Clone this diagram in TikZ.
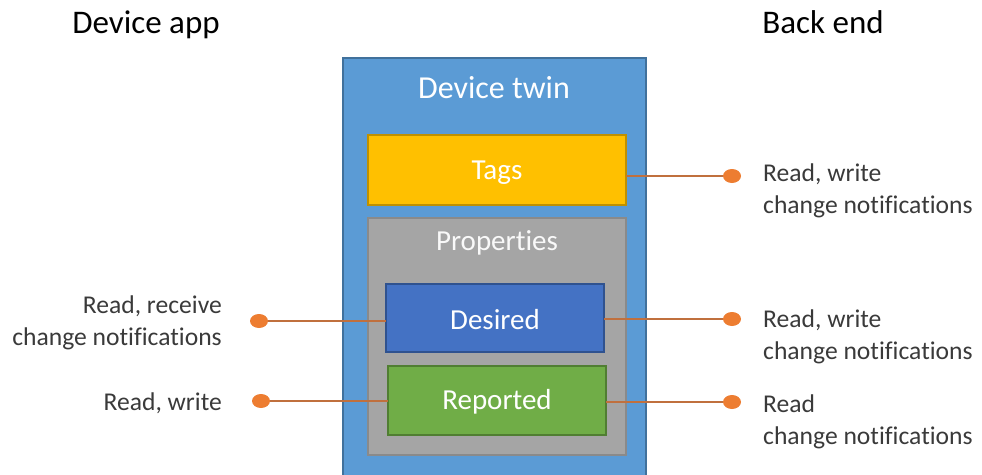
\documentclass[tikz,border=0pt]{standalone}
\usepackage{fontspec}
\setmainfont{Carlito}[Ligatures=NoCommon]
\usetikzlibrary{shapes.geometric}

\definecolor{twinblue}{HTML}{5B9BD5}
\definecolor{twinedge}{HTML}{41719C}
\definecolor{tagsfill}{HTML}{FFC000}
\definecolor{tagsedge}{HTML}{BF9000}
\definecolor{propfill}{HTML}{A5A5A5}
\definecolor{propedge}{HTML}{8A8A8A}
\definecolor{desfill}{HTML}{4472C4}
\definecolor{desedge}{HTML}{2F528F}
\definecolor{repfill}{HTML}{70AD47}
\definecolor{repedge}{HTML}{507E32}
\definecolor{dotfill}{HTML}{ED7D31}
\definecolor{linkcol}{HTML}{C0703E}
\definecolor{labelcol}{HTML}{3A3A3A}

\begin{document}
\begin{tikzpicture}[x=1pt,y=-1pt,
    heading/.style={font=\fontsize{33}{40}\selectfont,text=black,anchor=base},
    inner/.style={font=\fontsize{29}{34}\selectfont,text=white},
    label/.style={font=\fontsize{25.6}{32}\selectfont,text=labelcol,inner sep=0pt},
    box/.style={draw=#1edge,fill=#1fill,line width=1.2,inner sep=0pt},
    dot/.style={ellipse,fill=dotfill,minimum width=18,minimum height=14,inner sep=0pt},
    link/.style={draw=linkcol,line width=1.3}]
	\useasboundingbox (0,0) rectangle (982,474);

	% the twin and its parts
	\draw[draw=twinedge,fill=twinblue,line width=1.2] (343,58) rectangle (646,478);
	\node[inner,font=\fontsize{32}{38}\selectfont] (twin) at (494,88) {Device twin};
	\draw[box=tags] (368,135) rectangle (626,205);
	\node[inner] (tags) at (497,173) {Tags};
	\draw[box=prop] (368,218) rectangle (626,455);
	\node[inner,text=white!95!gray] (props) at (497,243) {Properties};
	\draw[box=des] (386,284) rectangle (604,352);
	\node[inner] (desired) at (495,320) {Desired};
	\draw[box=rep] (388,366) rectangle (606,435);
	\node[inner] (reported) at (497,402) {Reported};
	\coordinate (tagsR) at (626,176);
	\coordinate (desL) at (386,321);
	\coordinate (desR) at (604,319);
	\coordinate (repL) at (388,401);
	\coordinate (repR) at (606,402);

	% headings
	\node[heading] (app) at (146,33) {Device app};
	\node[heading] (back) at (823,33) {Back end};

	% dots on both sides
	\node[dot] (t1) at (732,176) {};
	\node[dot] (d1) at (732,319) {};
	\node[dot] (r1) at (732,402) {};
	\node[dot] (d0) at (259,321) {};
	\node[dot] (r0) at (261,401) {};

	\draw[link] (tagsR) -- (t1);
	\draw[link] (desR) -- (d1);
	\draw[link] (repR) -- (r1);
	\draw[link] (d0) -- (desL);
	\draw[link] (r0) -- (repL);

	% what each side may do
	\node[label,align=left,anchor=west] (tl) at (763,191) {Read, write\\change notifications};
	\node[label,align=left,anchor=west] (dl) at (763,337) {Read, write\\change notifications};
	\node[label,align=left,anchor=west] (rl) at (763,422) {Read\\change notifications};
	\node[label,align=right,anchor=east] (dl0) at (222,323) {Read, receive\\change notifications};
	\node[label,anchor=east] (rl0) at (222,403) {Read, write};
\end{tikzpicture}
\end{document}
